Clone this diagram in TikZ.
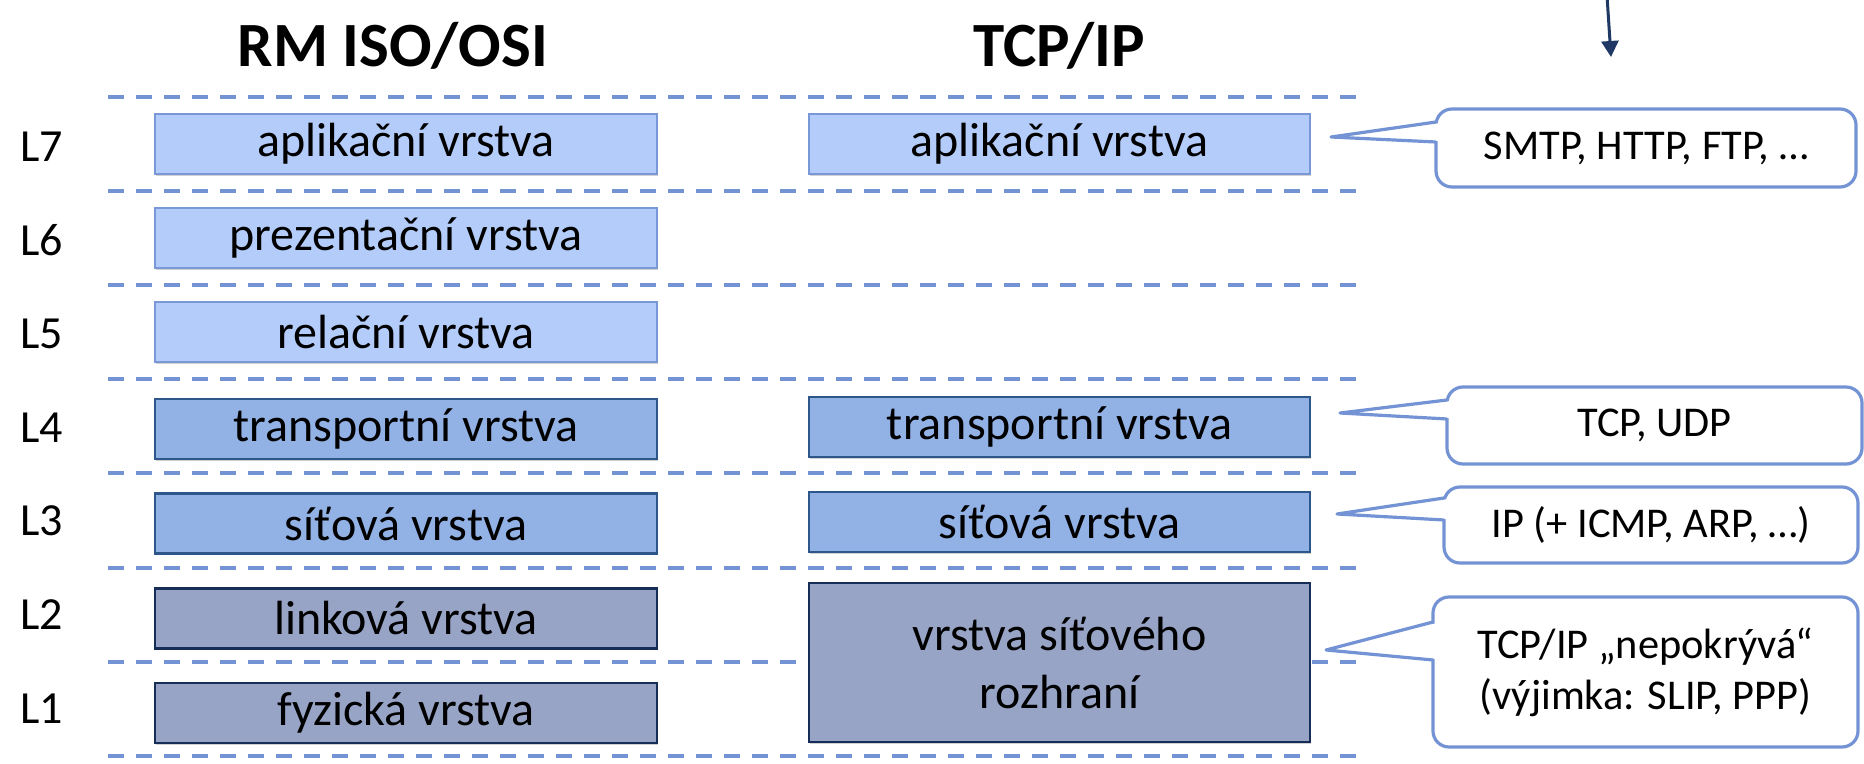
\documentclass[tikz,border=0pt]{standalone}
\usepackage{fontspec}
\setmainfont{Carlito}
\usetikzlibrary{shadows,arrows.meta,calc}
\definecolor{sepc}{RGB}{115,147,212}
\definecolor{lfill}{RGB}{180,204,250}
\definecolor{lbord}{RGB}{120,152,215}
\definecolor{mfill}{RGB}{146,177,229}
\definecolor{mbord}{RGB}{45,86,138}
\definecolor{dfill}{RGB}{151,164,198}
\definecolor{dbord}{RGB}{22,45,88}
\definecolor{arrc}{RGB}{31,56,100}
\tikzset{
  sepline/.style={draw=sepc, line width=1.75pt, dash pattern=on 8pt off 6pt},
  layerbox/.style={line width=1.15pt, inner sep=0pt, outer sep=0pt,
     minimum height=30pt, align=center,
     font=\fontsize{24}{29}\selectfont,
     drop shadow={shadow xshift=0.6pt, shadow yshift=-0.8pt, opacity=0.18, fill=black}},
  lightbox/.style={layerbox, fill=lfill, draw=lbord},
  medbox/.style={layerbox, fill=mfill, draw=mbord},
  darkbox/.style={layerbox, fill=dfill, draw=dbord},
  osicol/.style={minimum width=251pt},
  tcpcol/.style={minimum width=250.5pt},
  lab/.style={anchor=base west, inner sep=0pt, font=\fontsize{23}{27}\selectfont},
  ttl/.style={anchor=base, inner sep=0pt, font=\fontsize{31.5}{37}\selectfont\bfseries},
  callbox/.style={draw=sepc, fill=white, line width=1.6pt, rounded corners=8pt,
     inner sep=0pt, outer sep=0pt, align=center,
     font=\fontsize{21.2}{25.5}\selectfont},
  callptr/.style={draw=sepc, line width=1.6pt, line join=round},
  arrline/.style={draw=arrc, line width=1.5pt, -{Triangle[width=8.5pt,length=8pt]}}
}
\begin{document}
\begin{tikzpicture}[x=0.5pt,y=-0.5pt]
\useasboundingbox (0,0) rectangle (1864,764);

% separators
\foreach \yy in {97,191,285,379,473,568,662,756}
  \draw[sepline] (108,\yy) -- (1358,\yy);

% titles
\node[ttl] (tosi) at (393,67) {RM ISO/OSI};
\node[ttl] (ttcp) at (1059,67) {TCP/IP};

% layer labels
\node[lab] (l7) at (20,162) {L7};
\node[lab] (l6) at (20,255.5) {L6};
\node[lab] (l5) at (20,349) {L5};
\node[lab] (l4) at (20,443) {L4};
\node[lab] (l3) at (20,536) {L3};
\node[lab] (l2) at (20,629) {L2};
\node[lab] (l1) at (20,723) {L1};

% OSI column
\node[lightbox, osicol] (osi7) at (406,144) {aplikační vrstva};
\node[lightbox, osicol] (osi6) at (406,238) {prezentační vrstva};
\node[lightbox, osicol] (osi5) at (406,332) {relační vrstva};
\node[medbox, osicol] (osi4) at (406,429) {transportní vrstva};
\node[medbox, osicol] (osi3) at (406,523.5) {síťová vrstva};
\node[darkbox, osicol] (osi2) at (406,618.5) {linková vrstva};
\node[darkbox, osicol] (osi1) at (406,713) {fyzická vrstva};

% TCP/IP column
\node[lightbox, tcpcol] (tcp7) at (1059.5,144) {aplikační vrstva};
\node[medbox, tcpcol] (tcp4) at (1059.5,427) {transportní vrstva};
\node[medbox, tcpcol] (tcp3) at (1059.5,522) {síťová vrstva};
\node[darkbox, tcpcol, minimum height=79.5pt] (tcp2) at (1059.5,662.5) {vrstva síťového\\rozhraní};

% callouts
\node[callbox, minimum width=210pt, minimum height=39pt] (c1) at (1646,148) {SMTP, HTTP, FTP, …};
\node[callbox, minimum width=207.5pt, minimum height=38.5pt] (c2) at (1654.5,425.5) {TCP, UDP};
\node[callbox, minimum width=207pt, minimum height=38pt] (c3) at (1651,525) {IP (+ ICMP, ARP, …)};
\node[callbox, minimum width=212.5pt, minimum height=75pt] (c4) at (1645.5,672) {TCP/IP „nepokrývá“\\(výjimka: SLIP, PPP)};

\coordinate (p1) at (1331,137);
\coordinate (p2) at (1340,413);
\coordinate (p3) at (1337,514);
\coordinate (p4) at (1326,650);

\foreach \c/\p/\ba/\bb in {c1/p1/-26/-6, c2/p2/-25.5/-6.5, c3/p3/-27/-5, c4/p4/-50/-12}{
  \fill[white] ($(\c.west)+(4,\ba+1)$) -- (\p) -- ($(\c.west)+(4,\bb-1)$) -- cycle;
  \draw[callptr] ($(\c.west)+(0,\ba)$) -- (\p) -- ($(\c.west)+(0,\bb)$);
}

% arrow at the top
\coordinate (aS) at (1607,-4);
\coordinate (aE) at (1611,57);
\draw[arrline] (aS) -- (aE);
\end{tikzpicture}
\end{document}
